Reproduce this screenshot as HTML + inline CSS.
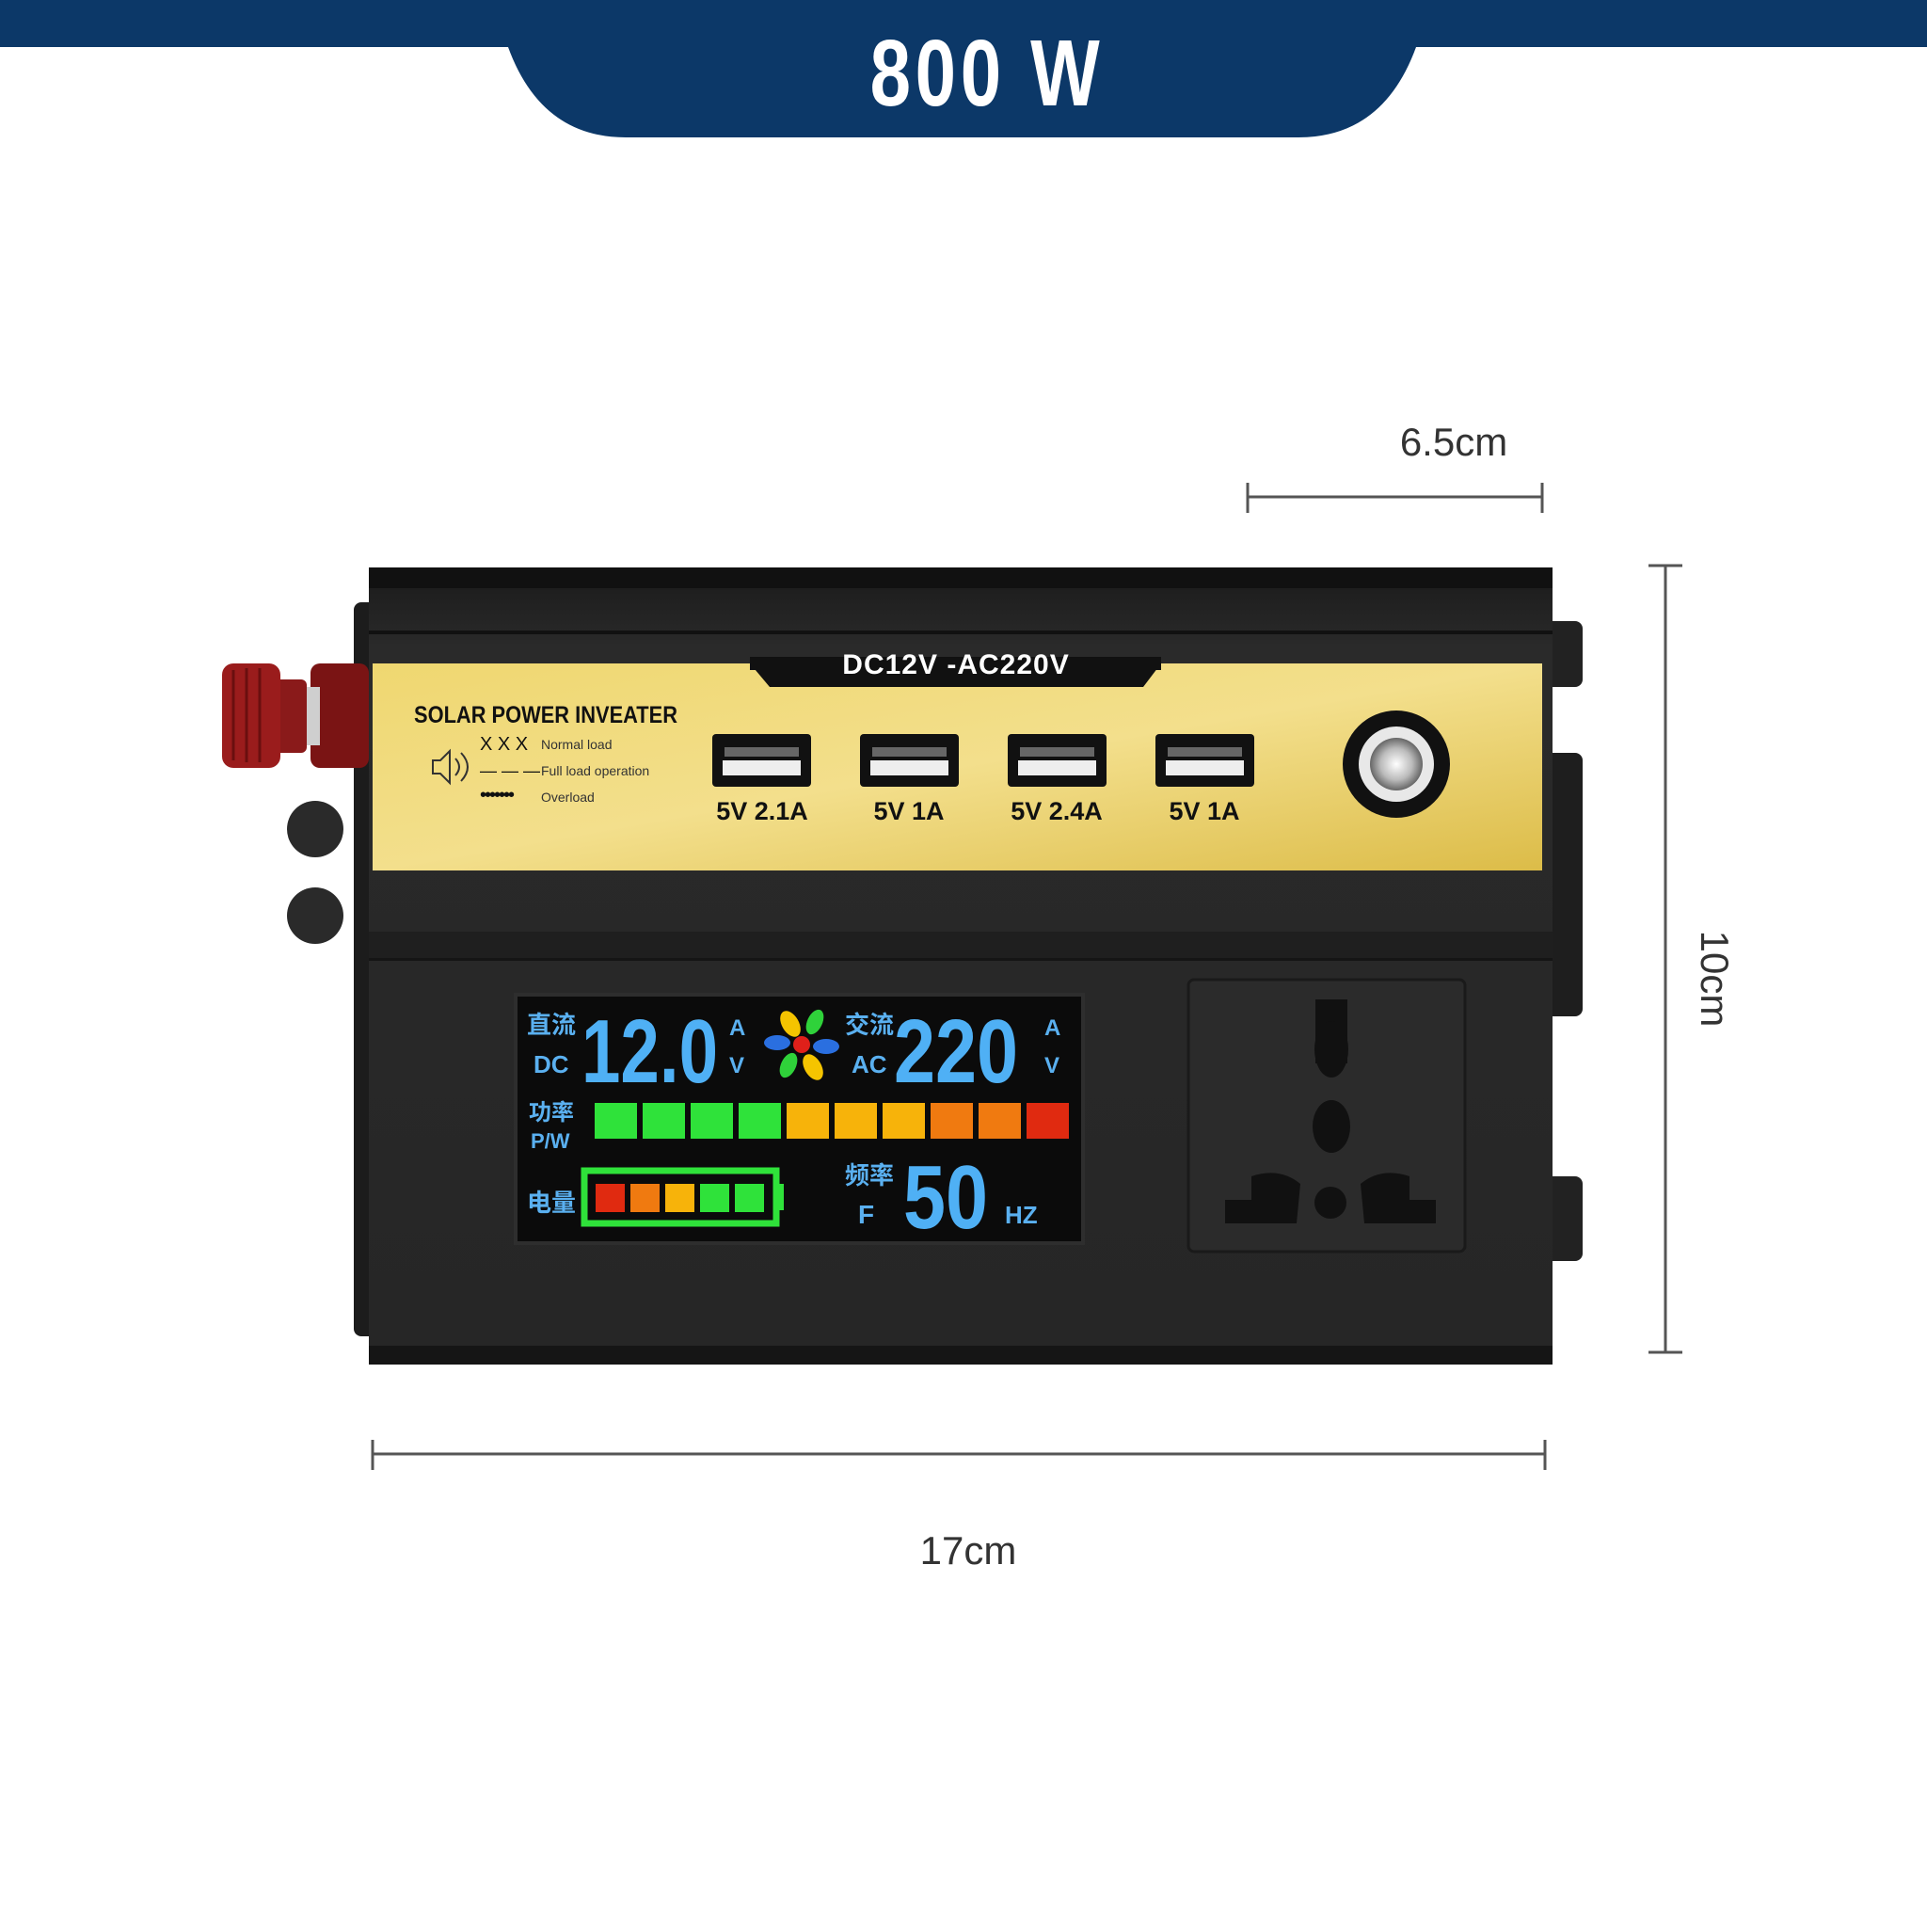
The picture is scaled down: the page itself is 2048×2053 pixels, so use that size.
<!DOCTYPE html>
<html><head><meta charset="utf-8"><style>
html,body{margin:0;padding:0;background:#fff}
body{width:2048px;height:2048px;overflow:hidden}
text{font-family:"Liberation Sans","Noto Sans CJK SC",sans-serif}
</style></head><body>
<svg width="2048" height="2048" viewBox="0 0 2048 2048" xmlns="http://www.w3.org/2000/svg">
<defs>
<linearGradient id="yel" x1="0" y1="0" x2="1" y2="1">
<stop offset="0" stop-color="#efd770"/><stop offset="0.5" stop-color="#f3df8c"/><stop offset="1" stop-color="#dcbc48"/>
</linearGradient>
<linearGradient id="body" x1="0" y1="0" x2="0" y2="1">
<stop offset="0" stop-color="#1a1a1a"/><stop offset="0.1" stop-color="#2a2a2a"/><stop offset="1" stop-color="#262626"/>
</linearGradient>
<radialGradient id="btn" cx="0.5" cy="0.5" r="0.5">
<stop offset="0" stop-color="#fff"/><stop offset="0.6" stop-color="#bbb"/><stop offset="1" stop-color="#666"/>
</radialGradient>
</defs>
<rect x="0" y="0" width="2048" height="50" fill="#0c3868"/>
<path d="M540 0 L1505 0 L1505 50 Q1470 146 1380 146 L665 146 Q575 146 540 50 Z" fill="#0c3868"/>
<text x="1049" y="112" text-anchor="middle" fill="#fff" font-size="100" font-weight="bold" transform="translate(1049 0) scale(0.78 1) translate(-1049 0)" letter-spacing="6">800 W</text>

<text x="1545" y="484" text-anchor="middle" font-size="42" fill="#333">6.5cm</text>
<path d="M1326 528 H1639 M1326 513 V545 M1639 513 V545" stroke="#555" stroke-width="3" fill="none"/>
<path d="M1770 601 V1437 M1752 601 H1788 M1752 1437 H1788" stroke="#555" stroke-width="3" fill="none"/>
<text x="0" y="0" font-size="42" fill="#333" text-anchor="middle" transform="translate(1808 1040) rotate(90)">10cm</text>
<path d="M396 1545 H1642 M396 1530 V1562 M1642 1530 V1562" stroke="#555" stroke-width="3" fill="none"/>
<text x="1029" y="1662" text-anchor="middle" font-size="42" fill="#333">17cm</text>

<rect x="1630" y="660" width="52" height="70" rx="8" fill="#222"/>
<rect x="1630" y="800" width="52" height="280" rx="8" fill="#1e1e1e"/>
<rect x="1630" y="1250" width="52" height="90" rx="8" fill="#222"/>
<rect x="376" y="640" width="30" height="780" rx="8" fill="#1c1c1c"/>
<ellipse cx="335" cy="881" rx="30" ry="30" fill="#2a2a2a"/>
<ellipse cx="335" cy="973" rx="30" ry="30" fill="#2a2a2a"/>
<path d="M392 618 L400 603 L1642 603 L1650 618 L1650 1450 L392 1450 Z" fill="url(#body)"/>
<rect x="392" y="603" width="1258" height="22" fill="#111"/>
<rect x="392" y="670" width="1258" height="4" fill="#111"/>
<rect x="392" y="990" width="1258" height="30" fill="#1f1f1f"/>
<rect x="392" y="1018" width="1258" height="3" fill="#151515"/>
<rect x="392" y="1430" width="1258" height="20" fill="#151515"/>
<rect x="396" y="705" width="1243" height="220" fill="url(#yel)"/>
<path d="M797 705 L1234 705 L1215 730 L818 730 Z" fill="#111"/>
<rect x="797" y="698" width="437" height="14" fill="#111"/>
<text x="1016" y="716" text-anchor="middle" font-size="30" font-weight="bold" fill="#fff" letter-spacing="1">DC12V -AC220V</text>
<text x="440" y="768" font-size="25" font-weight="bold" fill="#111" textLength="280" lengthAdjust="spacingAndGlyphs">SOLAR POWER INVEATER</text>
<text x="510" y="797" font-size="20" fill="#111">X X X</text>
<text x="575" y="796" font-size="14" fill="#333">Normal load</text>
<text x="510" y="825" font-size="18" fill="#111">— — —</text>
<text x="575" y="824" font-size="14" fill="#333">Full load operation</text>
<text x="510" y="851" font-size="20" fill="#111" letter-spacing="-2">•••••••</text>
<text x="575" y="852" font-size="14" fill="#333">Overload</text>
<path d="M460 808 h8 l10 -10 v34 l-10 -10 h-8 z M484 806 q8 9 0 18 M490 800 q14 15 0 30" stroke="#333" stroke-width="2" fill="none"/>
<g>
<rect x="757" y="780" width="105" height="56" rx="4" fill="#111"/><rect x="768" y="808" width="83" height="16" fill="#eee"/><rect x="770" y="794" width="79" height="10" fill="#666"/>
<rect x="914" y="780" width="105" height="56" rx="4" fill="#111"/><rect x="925" y="808" width="83" height="16" fill="#eee"/><rect x="927" y="794" width="79" height="10" fill="#666"/>
<rect x="1071" y="780" width="105" height="56" rx="4" fill="#111"/><rect x="1082" y="808" width="83" height="16" fill="#eee"/><rect x="1084" y="794" width="79" height="10" fill="#666"/>
<rect x="1228" y="780" width="105" height="56" rx="4" fill="#111"/><rect x="1239" y="808" width="83" height="16" fill="#eee"/><rect x="1241" y="794" width="79" height="10" fill="#666"/>
</g>
<g font-size="27" font-weight="bold" fill="#111" text-anchor="middle">
<text x="810" y="871">5V 2.1A</text><text x="966" y="871">5V 1A</text><text x="1123" y="871">5V 2.4A</text><text x="1280" y="871">5V 1A</text>
</g>
<circle cx="1484" cy="812" r="57" fill="#111"/>
<circle cx="1484" cy="812" r="40" fill="#e8e8e8"/>
<circle cx="1484" cy="812" r="28" fill="url(#btn)"/>
<rect x="330" y="705" width="62" height="111" rx="10" fill="#7a1414"/>
<rect x="320" y="730" width="20" height="62" fill="#cfcfcf"/>
<rect x="290" y="722" width="36" height="78" rx="6" fill="#8a1a1a"/>
<rect x="236" y="705" width="62" height="111" rx="12" fill="#9a1c1c"/>
<path d="M248 712 V808 M262 710 V810 M276 710 V810" stroke="#6a0f0f" stroke-width="3"/>
<rect x="546" y="1055" width="607" height="268" fill="#2e2e2e"/>
<rect x="550" y="1059" width="599" height="260" fill="#0b0b0b"/>
<g fill="#5ab0f0" font-family="Liberation Serif,'Noto Serif CJK SC',serif" font-weight="bold">
<text x="560" y="1098" font-size="26" font-family="'Noto Sans CJK SC',sans-serif">直流</text>
<text x="567" y="1140" font-size="26">DC</text>
<text x="562" y="1190" font-size="24" font-family="'Noto Sans CJK SC',sans-serif">功率</text>
<text x="564" y="1220" font-size="22">P/W</text>
<text x="560" y="1287" font-size="26" font-family="'Noto Sans CJK SC',sans-serif">电量</text>
<text x="898" y="1098" font-size="26" font-family="'Noto Sans CJK SC',sans-serif">交流</text>
<text x="905" y="1140" font-size="26">AC</text>
<text x="898" y="1258" font-size="26" font-family="'Noto Sans CJK SC',sans-serif">频率</text>
<text x="912" y="1300" font-size="28">F</text>
<text x="1068" y="1300" font-size="26">HZ</text>
<text x="775" y="1100" font-size="24">A</text><text x="775" y="1140" font-size="24">V</text>
<text x="1110" y="1100" font-size="24">A</text><text x="1110" y="1140" font-size="24">V</text>
</g>
<g font-family="Liberation Sans Narrow,Liberation Sans,sans-serif" font-weight="bold" fill="#4fb0f5">
<text x="618" y="1150" font-size="96" textLength="145" lengthAdjust="spacingAndGlyphs">12.0</text>
<text x="950" y="1150" font-size="96" textLength="132" lengthAdjust="spacingAndGlyphs">220</text>
<text x="960" y="1305" font-size="96" textLength="90" lengthAdjust="spacingAndGlyphs">50</text>
</g>
<g transform="translate(852 1110)">
<ellipse cx="-12" cy="-22" rx="9" ry="15" fill="#f5c400" transform="rotate(-30 -12 -22)"/>
<ellipse cx="14" cy="-24" rx="8" ry="14" fill="#2fd23a" transform="rotate(25 14 -24)"/>
<ellipse cx="26" cy="2" rx="14" ry="8" fill="#2a6fe0"/>
<ellipse cx="12" cy="24" rx="9" ry="15" fill="#f5c400" transform="rotate(-30 12 24)"/>
<ellipse cx="-14" cy="22" rx="8" ry="14" fill="#2fd23a" transform="rotate(25 -14 22)"/>
<ellipse cx="-26" cy="-2" rx="14" ry="8" fill="#2a6fe0"/>
<circle r="9" fill="#e0201a"/>
</g>
<g>
<rect x="632" y="1172" width="45" height="38" fill="#2fe23a"/>
<rect x="683" y="1172" width="45" height="38" fill="#2fe23a"/>
<rect x="734" y="1172" width="45" height="38" fill="#2fe23a"/>
<rect x="785" y="1172" width="45" height="38" fill="#2fe23a"/>
<rect x="836" y="1172" width="45" height="38" fill="#f7b30a"/>
<rect x="887" y="1172" width="45" height="38" fill="#f7b30a"/>
<rect x="938" y="1172" width="45" height="38" fill="#f7b30a"/>
<rect x="989" y="1172" width="45" height="38" fill="#f07a10"/>
<rect x="1040" y="1172" width="45" height="38" fill="#f07a10"/>
<rect x="1091" y="1172" width="45" height="38" fill="#e02a10"/>
</g>
<rect x="621" y="1244" width="204" height="56" fill="none" stroke="#2fe23a" stroke-width="7"/>
<rect x="825" y="1258" width="8" height="28" fill="#2fe23a"/>
<rect x="633" y="1258" width="31" height="30" fill="#e02a10"/>
<rect x="670" y="1258" width="31" height="30" fill="#f07a10"/>
<rect x="707" y="1258" width="31" height="30" fill="#f7b30a"/>
<rect x="744" y="1258" width="31" height="30" fill="#2fe23a"/>
<rect x="781" y="1258" width="31" height="30" fill="#2fe23a"/>
<rect x="1263" y="1041" width="294" height="289" rx="6" fill="#2b2b2b" stroke="#1a1a1a" stroke-width="3"/>
<path d="M1398 1062 L1432 1062 L1432 1130 L1398 1130 Z" fill="#111"/>
<ellipse cx="1415" cy="1115" rx="18" ry="30" fill="#111"/>
<ellipse cx="1415" cy="1197" rx="20" ry="28" fill="#111"/>
<path d="M1302 1275 L1302 1300 L1378 1300 L1382 1258 Q1360 1240 1330 1250 L1330 1275 Z" fill="#111"/>
<path d="M1526 1275 L1526 1300 L1450 1300 L1446 1258 Q1468 1240 1498 1250 L1498 1275 Z" fill="#111"/>
<circle cx="1414" cy="1278" r="17" fill="#111"/>
</svg>
</body></html>
